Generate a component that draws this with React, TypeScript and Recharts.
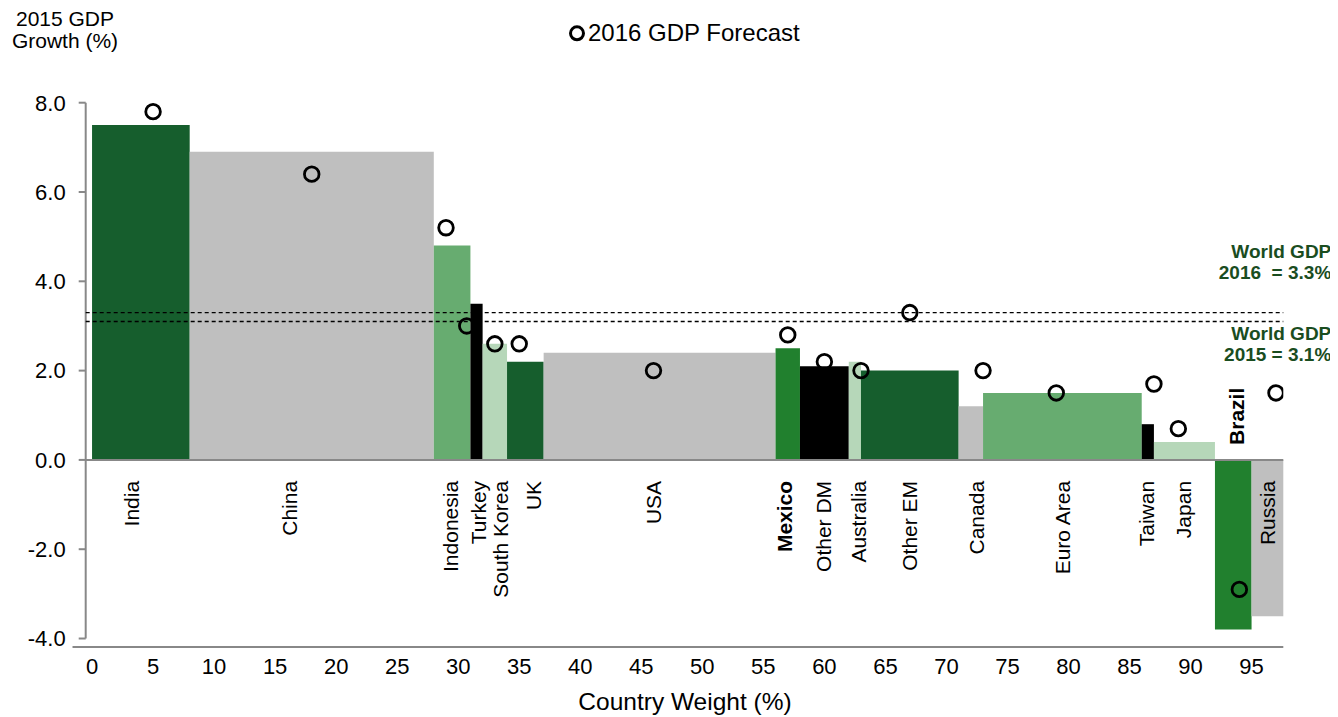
import React from 'react';
import { ComposedChart, XAxis, YAxis, Scatter, ReferenceArea, ReferenceLine } from 'recharts';

// Country weights (% of world GDP) set the bar widths, 2015 growth sets the heights
const countries = [
  'India', 'China', 'Indonesia', 'Turkey', 'South Korea', 'UK', 'USA', 'Mexico', 'Other DM',
  'Australia', 'Other EM', 'Canada', 'Euro Area', 'Taiwan', 'Japan', 'Brazil', 'Russia',
];
const weights = [8, 20, 3, 1, 2, 3, 19, 2, 4, 1, 8, 2, 13, 1, 5, 3, 2.6];
const gdp2015 = [7.5, 6.9, 4.8, 3.5, 2.6, 2.2, 2.4, 2.5, 2.1, 2.2, 2.0, 1.2, 1.5, 0.8, 0.4, -3.8, -3.5];
const forecast2016 = [7.8, 6.4, 5.2, 3.0, 2.6, 2.6, 2.0, 2.8, 2.2, 2.0, 3.3, 2.0, 1.5, 1.7, 0.7, -2.9, 1.5];
// where each forecast marker and country name sits on the weight axis
const forecastAt = [5, 18, 29, 30.7, 33, 35, 46, 57, 60, 63, 67, 73, 79, 87, 89, 94, 97];
const labelAt = [3.2, 16.2, 29.4, 31.7, 33.5, 36.2, 46, 56.7, 59.9, 62.8, 67, 72.5, 79.5, 86.4, 89.4, 93.8, 96.3];

const world2016 = 3.3;
const world2015 = 3.1;

const xTicks = [0, 5, 10, 15, 20, 25, 30, 35, 40, 45, 50, 55, 60, 65, 70, 75, 80, 85, 90, 95];
const yTicks = [-4, -2, 0, 2, 4, 6, 8];

const DARK = '#165e2d';
const MID = '#67ac70';
const LIGHT = '#b6d7b9';
const BRIGHT = '#21802e';
const GREY = '#bfbfbf';
const BLACK = '#000000';
const barFill = [DARK, GREY, MID, BLACK, LIGHT, DARK, GREY, BRIGHT, BLACK, LIGHT, DARK, GREY, MID, BLACK, LIGHT, BRIGHT, GREY];
const boldLabels = ['Mexico', 'Brazil'];
const labelsAbove = ['Brazil'];

const AXIS = '#888888';
const FONT = '"Liberation Sans", Arial, sans-serif';

const starts: number[] = [];
weights.reduce((acc, w) => {
  starts.push(acc);
  return acc + w;
}, 0);
const X_MAX = weights.reduce((a, b) => a + b, 0);
const X_MIN = -0.52;
const Y_MIN = -4.19;
const Y_MAX = 8;

const forecastPoints = countries.map((name, i) => ({ name, x: forecastAt[i], y: forecast2016[i] }));
const labelPoints = countries.map((name, i) => ({ name, x: labelAt[i], y: 0 }));

const Ring = (props: any) => (
  <circle cx={props.cx} cy={props.cy} r={7.3} fill="none" stroke="#000" strokeWidth={2.8} />
);

const CountryLabel = (props: any) => {
  const { cx, cy, payload } = props;
  const above = labelsAbove.includes(payload.name);
  const y = above ? cy - 15 : cy + 21;
  return (
    <text
      transform={`translate(${cx},${y}) rotate(-90)`}
      textAnchor={above ? 'start' : 'end'}
      dominantBaseline="central"
      fontSize={21}
      fontWeight={boldLabels.includes(payload.name) ? 700 : 400}
      fill="#000"
    >
      {payload.name}
    </text>
  );
};

const XTick = (props: any) => (
  <text x={props.x} y={props.y + 19} textAnchor="middle" dominantBaseline="central" fontSize={22} fill="#000">
    {props.payload.value}
  </text>
);

const worldLabel = (lines: string[], dy: number) => (props: any) => {
  const vb = props.viewBox || {};
  const right = vb.x + vb.width + 48;
  return (
    <text x={right} y={vb.y + dy} textAnchor="end" fontSize={19} fontWeight={700} fill="#1a4d1f" style={{ whiteSpace: 'pre' }}>
      {lines.map((l, i) => (
        <tspan key={i} x={right} dy={i === 0 ? 0 : 21}>
          {l}
        </tspan>
      ))}
    </text>
  );
};

export default function App() {
  return (
    <div style={{ position: 'relative', width: 1330, height: 709, fontFamily: FONT }}>
      <ComposedChart width={1330} height={709} margin={{ top: 94.7, right: 54.7, bottom: 0, left: 0 }}>
        <XAxis
          type="number"
          dataKey="x"
          domain={[X_MIN, X_MAX]}
          ticks={xTicks}
          interval={0}
          allowDataOverflow
          axisLine={false}
          tickLine={false}
          tickSize={0}
          tickMargin={0}
          tick={XTick}
          height={70}
        />
        <YAxis
          type="number"
          dataKey="y"
          domain={[Y_MIN, Y_MAX]}
          ticks={yTicks}
          interval={0}
          allowDataOverflow
          axisLine={false}
          tickSize={7}
          tickMargin={13}
          tickLine={{ stroke: AXIS, strokeWidth: 2 }}
          tick={{ fontSize: 22, fill: '#000' }}
          tickFormatter={(v: number) => v.toFixed(1)}
          width={77.7}
        />
        {countries.map((name, i) => (
          <ReferenceArea
            key={name}
            x1={starts[i]}
            x2={starts[i] + weights[i]}
            y1={0}
            y2={gdp2015[i]}
            fill={barFill[i]}
            fillOpacity={1}
            stroke="none"
          />
        ))}
        <ReferenceLine y={0} stroke={AXIS} strokeWidth={2} />
        <ReferenceLine segment={[{ x: X_MIN, y: -4 }, { x: X_MIN, y: Y_MAX }]} stroke={AXIS} strokeWidth={2} ifOverflow="visible" />
        <ReferenceLine segment={[{ x: -1.6, y: Y_MIN }, { x: X_MAX, y: Y_MIN }]} stroke={AXIS} strokeWidth={2} ifOverflow="visible" />
        <ReferenceLine
          y={world2016}
          stroke="#000"
          strokeWidth={1.3}
          strokeDasharray="4 3"
          label={worldLabel(['World GDP', `2016  = ${world2016.toFixed(1)}%`], -54.6)}
        />
        <ReferenceLine
          y={world2015}
          stroke="#000"
          strokeWidth={1.3}
          strokeDasharray="4 3"
          label={worldLabel(['World GDP', `2015 = ${world2015.toFixed(1)}%`], 18.5)}
        />
        <Scatter data={forecastPoints} shape={Ring} isAnimationActive={false} />
        <Scatter data={labelPoints} shape={CountryLabel} isAnimationActive={false} />
      </ComposedChart>
      <svg width={1330} height={709} style={{ position: 'absolute', left: 0, top: 0, pointerEvents: 'none' }}>
        <text x={57} y={18} textAnchor="middle" fontSize={21} fill="#000">2015 GDP</text>
        <text x={57} y={40} textAnchor="middle" fontSize={21} fill="#000">Growth (%)</text>
        <circle cx={569} cy={25.3} r={6.5} fill="none" stroke="#000" strokeWidth={3} />
        <text x={580} y={33} fontSize={24} fill="#000">2016 GDP Forecast</text>
        <text x={677} y={702} textAnchor="middle" fontSize={24.5} fill="#000">Country Weight (%)</text>
      </svg>
    </div>
  );
}
